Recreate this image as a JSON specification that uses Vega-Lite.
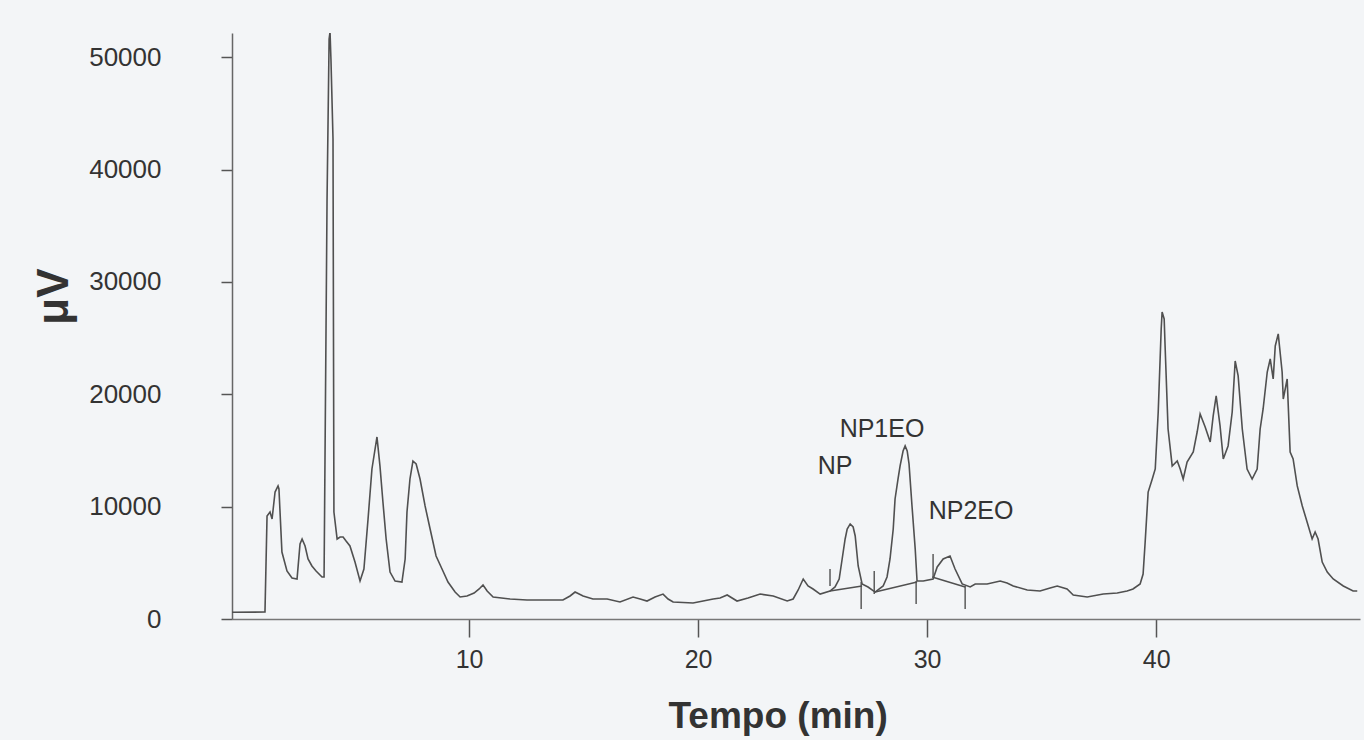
{
  "$schema": "https://vega.github.io/schema/vega-lite/v6.json",
  "width": 1128,
  "height": 586,
  "autosize": {"type": "none"},
  "padding": {"left": 232, "top": 33, "right": 4, "bottom": 121},
  "background": "#f3f5f7",
  "config": {
    "view": {"stroke": null},
    "font": "Liberation Sans"
  },
  "datasets": {
    "trace": [
      {"t": -0.35, "v": 600}, {"t": 1.09, "v": 620}, {"t": 1.18, "v": 9170}, {"t": 1.31, "v": 9520},
      {"t": 1.40, "v": 8900}, {"t": 1.53, "v": 11300}, {"t": 1.66, "v": 11840}, {"t": 1.70, "v": 11570},
      {"t": 1.83, "v": 5960}, {"t": 2.05, "v": 4270}, {"t": 2.27, "v": 3650}, {"t": 2.49, "v": 3560},
      {"t": 2.62, "v": 6680}, {"t": 2.71, "v": 7120}, {"t": 2.84, "v": 6500}, {"t": 2.97, "v": 5340},
      {"t": 3.14, "v": 4720}, {"t": 3.32, "v": 4270}, {"t": 3.58, "v": 3740}, {"t": 3.67, "v": 3740},
      {"t": 3.80, "v": 37380}, {"t": 3.89, "v": 51620}, {"t": 3.93, "v": 52240}, {"t": 3.97, "v": 49840},
      {"t": 4.06, "v": 42720}, {"t": 4.10, "v": 9520}, {"t": 4.24, "v": 7120}, {"t": 4.37, "v": 7300},
      {"t": 4.50, "v": 7300}, {"t": 4.63, "v": 6940}, {"t": 4.80, "v": 6500}, {"t": 5.02, "v": 5070},
      {"t": 5.24, "v": 3380}, {"t": 5.41, "v": 4450}, {"t": 5.59, "v": 8900}, {"t": 5.76, "v": 13350},
      {"t": 5.98, "v": 16200}, {"t": 6.11, "v": 13620}, {"t": 6.24, "v": 10410}, {"t": 6.38, "v": 7120},
      {"t": 6.55, "v": 4180}, {"t": 6.77, "v": 3380}, {"t": 7.07, "v": 3290}, {"t": 7.21, "v": 5340},
      {"t": 7.29, "v": 9520}, {"t": 7.42, "v": 12460}, {"t": 7.55, "v": 14060}, {"t": 7.69, "v": 13800},
      {"t": 7.86, "v": 12460}, {"t": 8.08, "v": 10060}, {"t": 8.30, "v": 8010}, {"t": 8.56, "v": 5610},
      {"t": 8.82, "v": 4450}, {"t": 9.08, "v": 3290}, {"t": 9.39, "v": 2400}, {"t": 9.61, "v": 1960},
      {"t": 9.91, "v": 2050}, {"t": 10.22, "v": 2310}, {"t": 10.44, "v": 2670}, {"t": 10.61, "v": 3030},
      {"t": 10.79, "v": 2490}, {"t": 11.05, "v": 1960}, {"t": 11.79, "v": 1780}, {"t": 12.53, "v": 1690},
      {"t": 13.32, "v": 1690}, {"t": 14.10, "v": 1690}, {"t": 14.41, "v": 2050}, {"t": 14.63, "v": 2400},
      {"t": 14.98, "v": 2050}, {"t": 15.41, "v": 1780}, {"t": 16.03, "v": 1780}, {"t": 16.59, "v": 1510},
      {"t": 17.16, "v": 1960}, {"t": 17.47, "v": 1780}, {"t": 17.77, "v": 1600}, {"t": 18.12, "v": 1960},
      {"t": 18.47, "v": 2220}, {"t": 18.69, "v": 1780}, {"t": 18.91, "v": 1510}, {"t": 19.78, "v": 1420},
      {"t": 20.22, "v": 1600}, {"t": 20.66, "v": 1780}, {"t": 20.96, "v": 1870}, {"t": 21.27, "v": 2140},
      {"t": 21.70, "v": 1600}, {"t": 22.18, "v": 1870}, {"t": 22.71, "v": 2220}, {"t": 23.28, "v": 2050},
      {"t": 23.89, "v": 1600}, {"t": 24.15, "v": 1780}, {"t": 24.37, "v": 2580}, {"t": 24.59, "v": 3560},
      {"t": 24.80, "v": 2940}, {"t": 25.02, "v": 2670}, {"t": 25.33, "v": 2220}, {"t": 25.76, "v": 2490},
      {"t": 25.98, "v": 2850}, {"t": 26.16, "v": 3560}, {"t": 26.29, "v": 5340}, {"t": 26.42, "v": 7120},
      {"t": 26.51, "v": 8010}, {"t": 26.64, "v": 8460}, {"t": 26.77, "v": 8190}, {"t": 26.86, "v": 7390},
      {"t": 26.99, "v": 4720}, {"t": 27.16, "v": 3120}, {"t": 27.42, "v": 2850}, {"t": 27.73, "v": 2400},
      {"t": 28.08, "v": 2940}, {"t": 28.25, "v": 3740}, {"t": 28.38, "v": 5340}, {"t": 28.52, "v": 8010},
      {"t": 28.60, "v": 10680}, {"t": 28.73, "v": 12460}, {"t": 28.82, "v": 13620}, {"t": 28.95, "v": 14950},
      {"t": 29.04, "v": 15400}, {"t": 29.13, "v": 14950}, {"t": 29.21, "v": 13800}, {"t": 29.34, "v": 10060},
      {"t": 29.48, "v": 6230}, {"t": 29.56, "v": 3380}, {"t": 29.83, "v": 3380}, {"t": 30.26, "v": 3560},
      {"t": 30.44, "v": 4630}, {"t": 30.70, "v": 5340}, {"t": 31.00, "v": 5610}, {"t": 31.22, "v": 4450},
      {"t": 31.53, "v": 3120}, {"t": 31.88, "v": 2850}, {"t": 32.10, "v": 3120}, {"t": 32.31, "v": 3120},
      {"t": 32.62, "v": 3120}, {"t": 33.19, "v": 3380}, {"t": 33.49, "v": 3200}, {"t": 33.76, "v": 2940},
      {"t": 34.37, "v": 2580}, {"t": 34.93, "v": 2490}, {"t": 35.37, "v": 2760}, {"t": 35.68, "v": 2940},
      {"t": 36.11, "v": 2670}, {"t": 36.38, "v": 2140}, {"t": 36.99, "v": 1960}, {"t": 37.69, "v": 2220},
      {"t": 38.30, "v": 2310}, {"t": 38.73, "v": 2490}, {"t": 38.99, "v": 2670}, {"t": 39.30, "v": 3120},
      {"t": 39.43, "v": 4000}, {"t": 39.52, "v": 6850}, {"t": 39.65, "v": 11300}, {"t": 39.83, "v": 12460},
      {"t": 39.96, "v": 13350}, {"t": 40.09, "v": 18420}, {"t": 40.22, "v": 25810}, {"t": 40.26, "v": 27320},
      {"t": 40.35, "v": 26700}, {"t": 40.39, "v": 24300}, {"t": 40.52, "v": 16910}, {"t": 40.70, "v": 13620},
      {"t": 40.92, "v": 14060}, {"t": 41.05, "v": 13350}, {"t": 41.18, "v": 12460}, {"t": 41.35, "v": 13970},
      {"t": 41.62, "v": 14860}, {"t": 41.79, "v": 16640}, {"t": 41.92, "v": 18250}, {"t": 42.14, "v": 17090},
      {"t": 42.36, "v": 15750}, {"t": 42.49, "v": 18070}, {"t": 42.62, "v": 19850}, {"t": 42.79, "v": 17180},
      {"t": 42.93, "v": 14240}, {"t": 43.14, "v": 15400}, {"t": 43.32, "v": 18420}, {"t": 43.45, "v": 22960},
      {"t": 43.58, "v": 21630}, {"t": 43.76, "v": 16910}, {"t": 43.97, "v": 13350}, {"t": 44.19, "v": 12460},
      {"t": 44.41, "v": 13350}, {"t": 44.54, "v": 16910}, {"t": 44.67, "v": 18690}, {"t": 44.85, "v": 21980},
      {"t": 44.98, "v": 23140}, {"t": 45.11, "v": 21360}, {"t": 45.20, "v": 24300}, {"t": 45.33, "v": 25370},
      {"t": 45.50, "v": 21980}, {"t": 45.55, "v": 19580}, {"t": 45.72, "v": 21360}, {"t": 45.85, "v": 14860},
      {"t": 45.98, "v": 14240}, {"t": 46.16, "v": 11840}, {"t": 46.38, "v": 10060}, {"t": 46.59, "v": 8630},
      {"t": 46.81, "v": 7120}, {"t": 46.94, "v": 7740}, {"t": 47.07, "v": 7120}, {"t": 47.25, "v": 5070},
      {"t": 47.47, "v": 4180}, {"t": 47.73, "v": 3560}, {"t": 48.17, "v": 2940}, {"t": 48.60, "v": 2490},
      {"t": 48.78, "v": 2490}
    ],
    "marks": [
      {"t": 25.76, "t2": 25.76, "v": 2940, "v2": 4450},
      {"t": 27.12, "t2": 27.12, "v": 890, "v2": 3290},
      {"t": 27.69, "t2": 27.69, "v": 2220, "v2": 4270},
      {"t": 29.52, "t2": 29.52, "v": 1340, "v2": 3380},
      {"t": 30.26, "t2": 30.26, "v": 3740, "v2": 5790},
      {"t": 31.66, "t2": 31.66, "v": 890, "v2": 2940},
      {"t": 25.76, "t2": 27.16, "v": 2490, "v2": 2940},
      {"t": 27.73, "t2": 29.56, "v": 2400, "v2": 3290},
      {"t": 30.22, "t2": 31.66, "v": 3740, "v2": 2850}
    ],
    "labels": [
      {"t": 25.98, "v": 13600, "label": "NP"},
      {"t": 28.03, "v": 16900, "label": "NP1EO"},
      {"t": 31.92, "v": 9600, "label": "NP2EO"}
    ]
  },
  "layer": [
    {
      "data": {"name": "trace"},
      "mark": {"type": "line", "color": "#505050", "strokeWidth": 1.6, "clip": true},
      "encoding": {
        "x": {
          "field": "t", "type": "quantitative",
          "scale": {"domain": [-0.35, 48.9], "nice": false, "zero": false},
          "axis": {
            "values": [10, 20, 30, 40],
            "grid": false,
            "domainColor": "#777777", "domainWidth": 1.5,
            "tickColor": "#555555", "tickWidth": 1.5, "tickSize": 18,
            "labelFontSize": 25, "labelColor": "#333333", "labelPadding": 10, "labelDx": -15,
            "title": "Tempo (min)",
            "titleFontSize": 37, "titleFontWeight": "bold", "titleColor": "#333333",
            "titleAnchor": "start", "titleX": 436, "titleY": 108,
            "titleAlign": "left", "titleBaseline": "alphabetic"
          }
        },
        "y": {
          "field": "v", "type": "quantitative",
          "scale": {"domain": [0, 52150], "nice": false},
          "axis": {
            "values": [0, 10000, 20000, 30000, 40000, 50000],
            "format": "d",
            "grid": false,
            "domainColor": "#666666", "domainWidth": 1.5,
            "tickColor": "#555555", "tickWidth": 1.5, "tickSize": 11,
            "labelFontSize": 26, "labelColor": "#333333", "labelPadding": 60,
            "title": "μV",
            "titleFontSize": 44, "titleFontWeight": "bold", "titleColor": "#333333",
            "titleAngle": -90, "titleX": -178, "titleY": 263,
            "titleAlign": "center", "titleBaseline": "middle", "titleAnchor": "start"
          }
        }
      }
    },
    {
      "data": {"name": "marks"},
      "mark": {"type": "rule", "color": "#505050", "strokeWidth": 1.4},
      "encoding": {
        "x": {"field": "t", "type": "quantitative"},
        "x2": {"field": "t2"},
        "y": {"field": "v", "type": "quantitative"},
        "y2": {"field": "v2"}
      }
    },
    {
      "data": {"name": "labels"},
      "mark": {"type": "text", "fontSize": 25, "color": "#333333", "align": "center", "baseline": "middle", "font": "Liberation Sans"},
      "encoding": {
        "x": {"field": "t", "type": "quantitative"},
        "y": {"field": "v", "type": "quantitative"},
        "text": {"field": "label"}
      }
    }
  ]
}
